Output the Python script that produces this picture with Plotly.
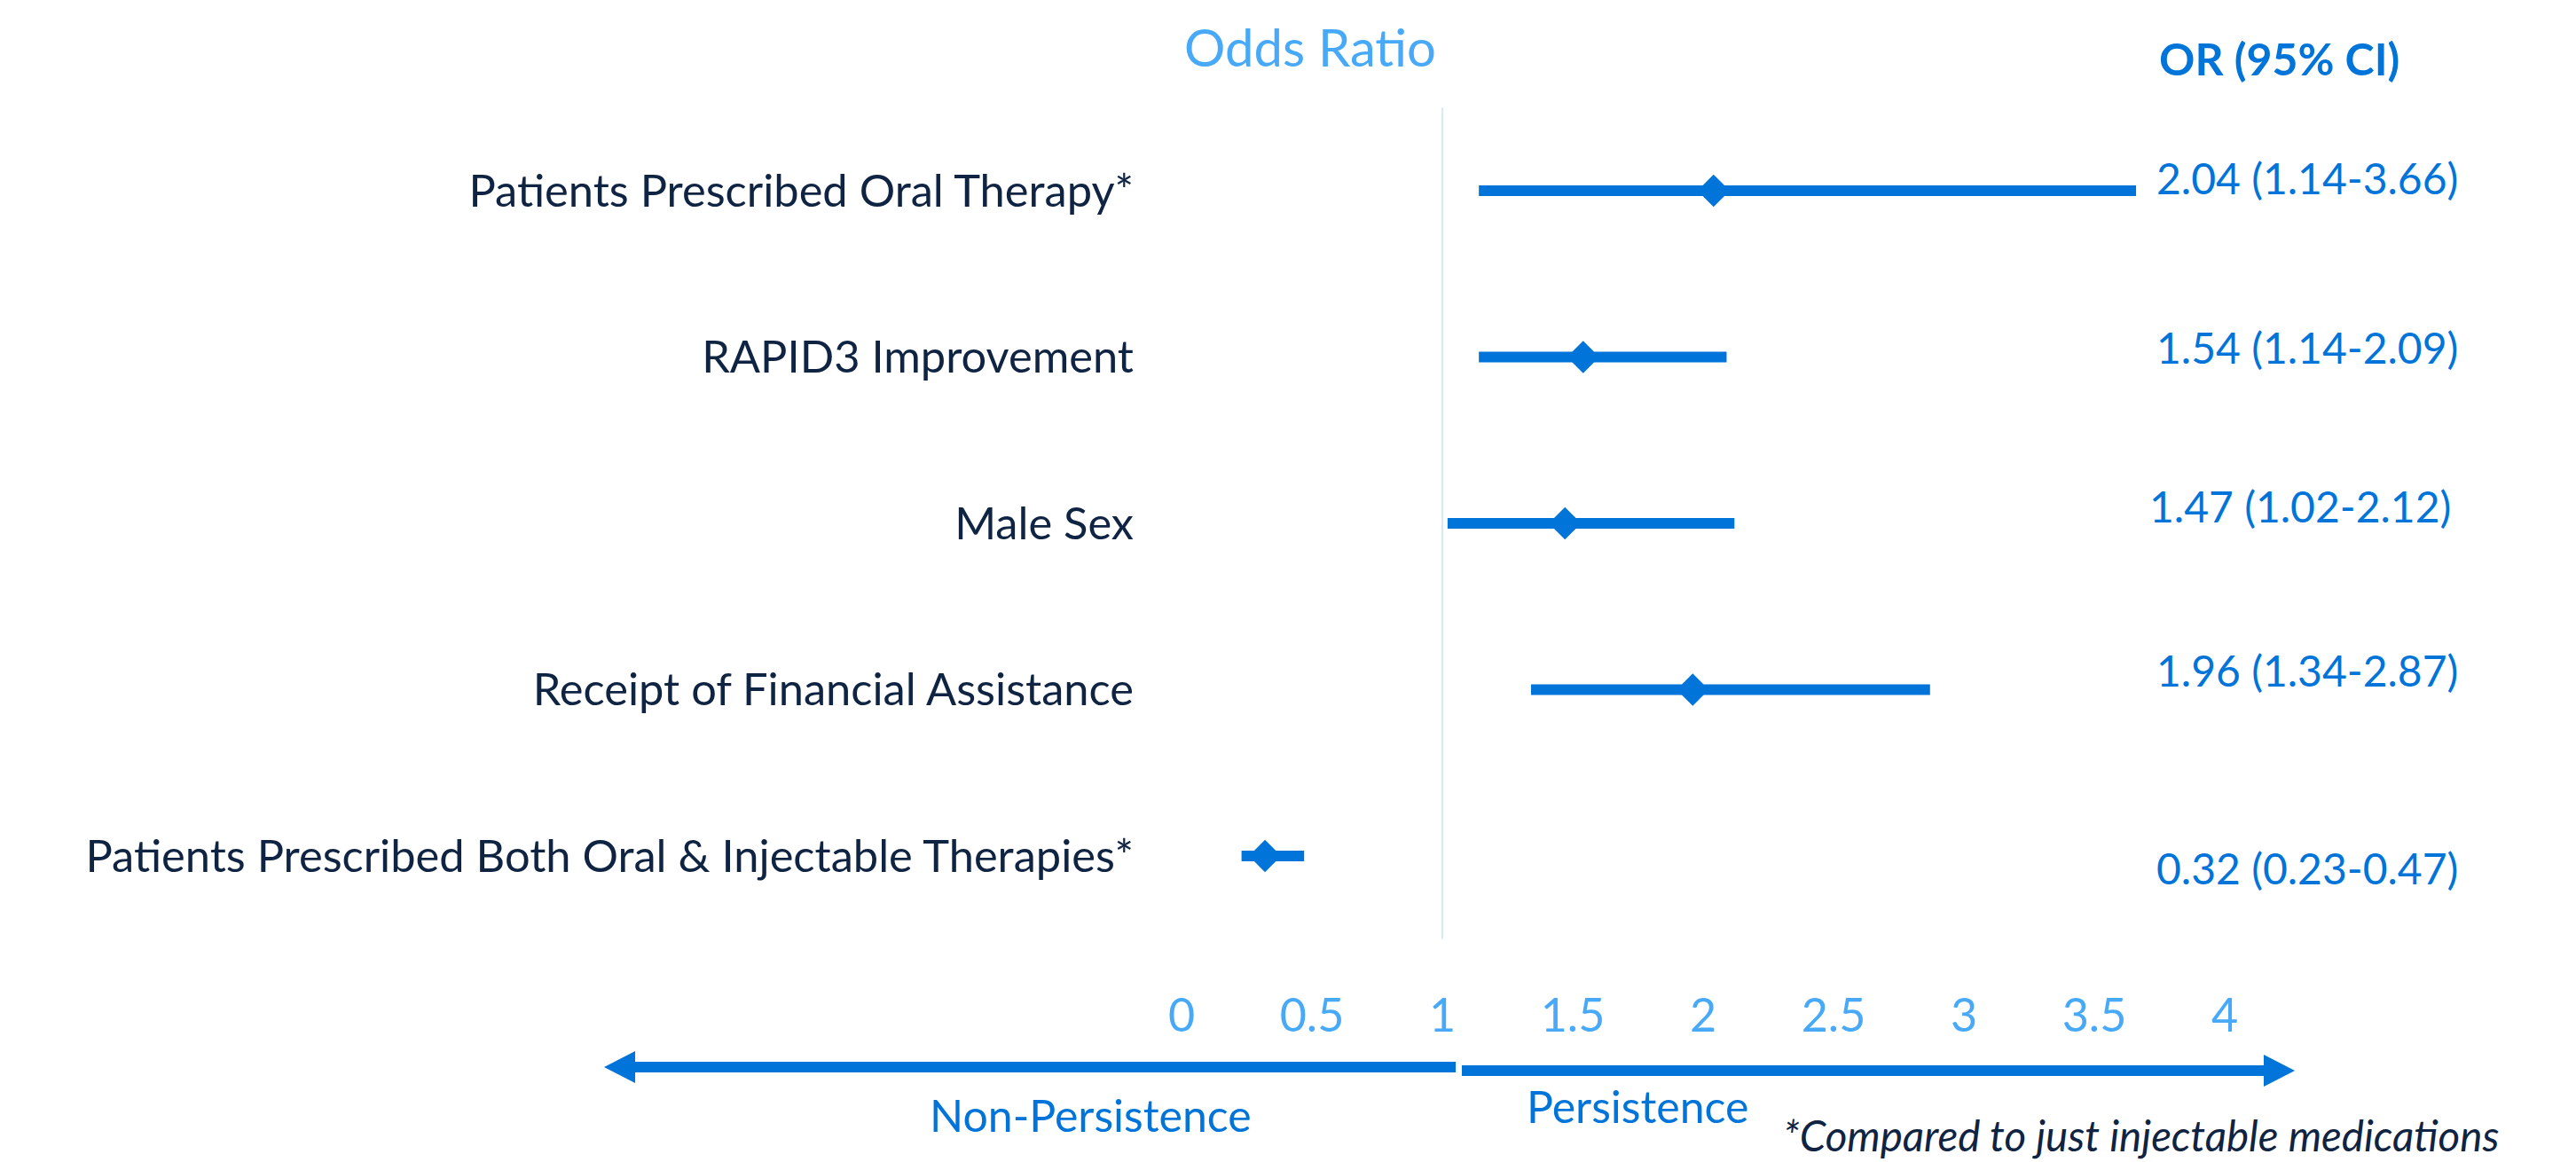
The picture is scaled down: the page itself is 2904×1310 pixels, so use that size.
import plotly.graph_objects as go

# ---------------- data ----------------
categories = [
    "Patients Prescribed Oral Therapy*",
    "RAPID3 Improvement",
    "Male Sex",
    "Receipt of Financial Assistance",
    "Patients Prescribed Both Oral & Injectable Therapies*",
]
odds_ratio = [2.04, 1.54, 1.47, 1.96, 0.32]
ci_low = [1.14, 1.14, 1.02, 1.34, 0.23]
ci_high = [3.66, 2.09, 2.12, 2.87, 0.47]

x_tick_values = [0, 0.5, 1, 1.5, 2, 2.5, 3, 3.5, 4]
x_tick_labels = ["0", "0.5", "1", "1.5", "2", "2.5", "3", "3.5", "4"]

# ---------------- layout constants (reference-page pixels) ----------------
W, H = 2904, 1310
OFF = 8                              # page body margin
FIG_W, FIG_H = W - 2 * OFF, H - OFF
X0_PX, UNIT_PX = 1332, 294           # page pixel of OR=0, pixels per OR unit
PLOT_BOTTOM_PX = 1110
ROW0_PX, ROW_STEP = 215, 187.5
YAXIS_PX = 1278

BLUE = "#0074D9"
LIGHT_BLUE = "#48A9F8"
NAVY = "#0F2342"
REF_LINE = "#D5E9FA"
FONT = "Lato, 'Source Sans Pro', sans-serif"


def px_x(p):
    return (p - OFF) / FIG_W


def px_y(p):
    return 1 - (p - OFF) / FIG_H


n = len(categories)
rows = list(range(n))

fig = go.Figure()

# reference line at OR = 1
fig.add_trace(go.Scatter(
    x=[1, 1], y=[-0.5, n - 0.5], mode="lines",
    line=dict(color=REF_LINE, width=2), hoverinfo="skip", showlegend=False,
))

# odds ratios with confidence intervals
fig.add_trace(go.Scatter(
    x=odds_ratio, y=rows, mode="markers",
    marker=dict(symbol="diamond", size=28, color=BLUE, line=dict(width=0)),
    error_x=dict(
        type="data", symmetric=False,
        array=[h - o for h, o in zip(ci_high, odds_ratio)],
        arrayminus=[o - l for o, l in zip(odds_ratio, ci_low)],
        color=BLUE, thickness=12, width=0,
    ),
    showlegend=False,
))

annotations = []

# OR (95% CI) column
text_dy = [-15, -11, -20, -22, 13]
text_x_px = [2601, 2601, 2593, 2601, 2601]
for i, (o, l, h) in enumerate(zip(odds_ratio, ci_low, ci_high)):
    annotations.append(dict(
        x=px_x(text_x_px[i]), xref="paper", y=i, yref="y",
        yshift=-text_dy[i], xanchor="center", yanchor="middle",
        text=f"{o:.2f} ({l:.2f}-{h:.2f})", showarrow=False,
        font=dict(family=FONT, size=48, color=BLUE),
    ))

annotations.append(dict(
    x=px_x(2569), xref="paper", y=px_y(66), yref="paper",
    xanchor="center", yanchor="middle", text="<b>OR (95% CI)</b>",
    showarrow=False, font=dict(family=FONT, size=50, color=BLUE),
))

annotations.append(dict(
    x=px_x(1229), xref="paper", y=px_y(1257), yref="paper",
    xanchor="center", yanchor="middle", text="Non-Persistence",
    showarrow=False, font=dict(family=FONT, size=50, color=BLUE),
))
annotations.append(dict(
    x=px_x(1846), xref="paper", y=px_y(1247), yref="paper",
    xanchor="center", yanchor="middle", text="Persistence",
    showarrow=False, font=dict(family=FONT, size=50, color=BLUE),
))
annotations.append(dict(
    x=px_x(2413), xref="paper", y=px_y(1279), yref="paper",
    xanchor="center", yanchor="middle",
    text="<i>*Compared to just injectable medications</i>",
    showarrow=False, font=dict(family=FONT, size=47.5, color=NAVY),
))

# direction arrows
shapes = []


def arrow(x_start, x_end, y, head_len=35, head_half=18, width=12):
    d = 1 if x_end > x_start else -1
    base = x_end - d * head_len
    shapes.append(dict(
        type="line", xref="paper", yref="paper",
        x0=px_x(x_start), x1=px_x(base), y0=px_y(y), y1=px_y(y),
        line=dict(color=BLUE, width=width),
    ))
    path = (f"M {px_x(x_end)} {px_y(y)} L {px_x(base)} {px_y(y - head_half)} "
            f"L {px_x(base)} {px_y(y + head_half)} Z")
    shapes.append(dict(
        type="path", xref="paper", yref="paper", path=path,
        fillcolor=BLUE, line=dict(width=0),
    ))


arrow(1641, 681, 1203)
arrow(1648, 2587, 1207)

fig.update_layout(
    width=FIG_W, height=FIG_H,
    margin=dict(l=0, r=0, t=0, b=0),
    paper_bgcolor="white", plot_bgcolor="white",
    title=dict(
        text="Odds Ratio", x=px_x(1477), xanchor="center",
        y=px_y(55), yanchor="middle",
        font=dict(family=FONT, size=58, color=LIGHT_BLUE),
    ),
    xaxis=dict(
        domain=[0, 1],
        range=[(OFF - X0_PX) / UNIT_PX, (OFF + FIG_W - X0_PX) / UNIT_PX],
        tickvals=x_tick_values, ticktext=x_tick_labels,
        tickfont=dict(family=FONT, size=52, color=LIGHT_BLUE),
        showgrid=False, zeroline=False, showline=False, ticks="",
        anchor="y",
    ),
    yaxis=dict(
        domain=[1 - (PLOT_BOTTOM_PX - OFF) / FIG_H, 1],
        range=[(PLOT_BOTTOM_PX - ROW0_PX) / ROW_STEP, (OFF - ROW0_PX) / ROW_STEP],
        tickvals=rows, ticktext=categories,
        tickfont=dict(family=FONT, size=50.6, color=NAVY),
        showgrid=False, zeroline=False, showline=False, ticks="",
        anchor="free", position=px_x(YAXIS_PX),
    ),
    annotations=annotations,
    shapes=shapes,
    showlegend=False,
)

fig.write_html("out.html")
